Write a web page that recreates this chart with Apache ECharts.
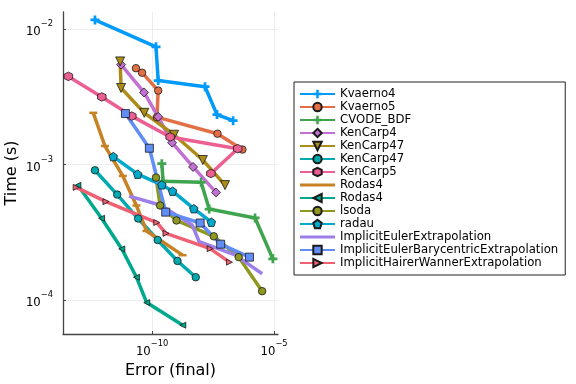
<!DOCTYPE html>
<html><head><meta charset="utf-8">
<script src="https://cdn.jsdelivr.net/npm/echarts@6/dist/echarts.min.js"></script>
<style>html,body{margin:0;padding:0;background:#fff}#c{width:576px;height:384px}</style>
</head><body><div id="c"></div>
<script>
// ---- data (Error (final), Time (s)) ----
// duplicate names in the original legend are kept distinct with a trailing space
const seriesNames = ["Kvaerno4","Kvaerno5","CVODE_BDF","KenCarp4","KenCarp47","KenCarp47 ","KenCarp5","Rodas4","Rodas4 ","lsoda","radau","ImplicitEulerExtrapolation","ImplicitEulerBarycentricExtrapolation","ImplicitHairerWannerExtrapolation"];
const kvaerno4Err = [4.57e-13, 1.45e-10, 1.78e-10, 1.48e-8, 4.57e-8, 2.09e-7];
const kvaerno4Time = [0.0117, 0.00741, 0.00417, 0.00376, 0.00234, 0.00211];
const kvaerno5Err = [2.19e-11, 3.89e-11, 1.78e-10, 1.58e-10, 4.79e-8, 5.01e-7];
const kvaerno5Time = [0.00515, 0.00477, 0.00352, 0.00224, 0.00169, 0.00129];
const cvodeErr = [2.51e-10, 2.82e-10, 1.02e-8, 2.19e-8, 1.66e-6, 8.91e-6];
const cvodeTime = [0.001014, 0.000753, 0.000739, 0.000469, 0.000403, 0.000201];
const kenCarp4Err = [5.37e-12, 4.68e-11, 1.78e-10, 6.61e-10, 4.79e-9, 4.17e-8];
const kenCarp4Time = [0.00547, 0.00341, 0.00225, 0.00145, 0.00096, 0.000622];
const kenCarp47aErr = [4.90e-12, 5.37e-12, 4.79e-11, 7.94e-10, 1.20e-8, 9.77e-8];
const kenCarp47aTime = [0.00578, 0.00368, 0.00241, 0.00166, 0.00108, 0.000705];
const kenCarp47bErr = [4.57e-13, 3.72e-12, 2.69e-11, 1.70e-10, 1.10e-9, 6.17e-9];
const kenCarp47bTime = [0.000907, 0.0006, 0.000399, 0.000277, 0.000194, 0.000147];
const kenCarp5Err = [3.72e-14, 8.71e-13, 1.48e-11, 5.50e-10, 3.24e-7, 2.57e-8];
const kenCarp5Time = [0.00448, 0.00316, 0.00228, 0.0016, 0.00131, 0.000859];
const rodas4aErr = [3.89e-13, 1.17e-12, 6.31e-12, 2.29e-11, 5.89e-11, 1.78e-9];
const rodas4aTime = [0.00241, 0.00137, 0.000824, 0.000498, 0.000323, 0.000214];
const rodas4bErr = [9.12e-14, 8.51e-13, 5.75e-12, 2.29e-11, 6.03e-11, 1.82e-9];
const rodas4bTime = [0.000702, 0.000401, 0.000238, 0.000147, 0.0000955, 0.000065];
const lsodaErr = [1.45e-10, 2.14e-10, 1.0e-9, 3.39e-8, 3.55e-7, 3.24e-6];
const lsodaTime = [0.000801, 0.000498, 0.000386, 0.000295, 0.000207, 0.000116];
const radauErr = [2.57e-12, 2.57e-11, 2.51e-10, 6.92e-10, 5.13e-9, 2.69e-8];
const radauTime = [0.001145, 0.000849, 0.000708, 0.000636, 0.000472, 0.000375];
const ieExtrapErr = [1.15e-11, 2.14e-10, 4.37e-9, 8.51e-9, 2.51e-7, 3.24e-6];
const ieExtrapTime = [0.000585, 0.000502, 0.000358, 0.000269, 0.000215, 0.000156];
const iebExtrapErr = [8.13e-12, 7.76e-11, 3.63e-10, 9.33e-9, 6.46e-8, 9.77e-7];
const iebExtrapTime = [0.00238, 0.00132, 0.000445, 0.00037, 0.000258, 0.000207];
const ihwExtrapErr = [7.76e-14, 1.29e-12, 1.55e-10, 3.72e-10, 2.40e-8, 1.48e-7];
const ihwExtrapTime = [0.000678, 0.000532, 0.000373, 0.00031, 0.000239, 0.00019];
const xTicks = [1e-10, 1e-5];
const yTicks = [1e-4, 1e-3, 1e-2];

const errs = [kvaerno4Err,kvaerno5Err,cvodeErr,kenCarp4Err,kenCarp47aErr,kenCarp47bErr,kenCarp5Err,rodas4aErr,rodas4bErr,lsodaErr,radauErr,ieExtrapErr,iebExtrapErr,ihwExtrapErr];
const times = [kvaerno4Time,kvaerno5Time,cvodeTime,kenCarp4Time,kenCarp47aTime,kenCarp47bTime,kenCarp5Time,rodas4aTime,rodas4bTime,lsodaTime,radauTime,ieExtrapTime,iebExtrapTime,ihwExtrapTime];

// ---- styles ----
const colors = ['#009AFA','#E36F47','#3EA44E','#C271D2','#AC8D18','#00A9AD','#ED5E93','#C68225','#00A98D','#8E971E','#00A8CB','#9C7FE9','#618DF6','#F06073'];
const CROSS = 'path://M3.5,0H6.5V3.5H10V6.5H6.5V10H3.5V6.5H0V3.5H3.5Z';
const DTRI = 'path://M0,0L10,0L5,10Z';
const LTRI = 'path://M10,0L0,5L10,10Z';
const RTRI = 'path://M0,0L10,5L0,10Z';
const HEX = 'path://M5,0L9.33,2.5L9.33,7.5L5,10L0.67,7.5L0.67,2.5Z';
const PENT = 'path://M5,0L10,3.8L8.1,10L1.9,10L0,3.8Z';
const HLINE = 'path://M0,0H10V2.5H0Z';
const BAR = 'path://M0,0H100V9H0Z';
const symbols = [CROSS,'circle',CROSS,'diamond',DTRI,'circle',HEX,HLINE,LTRI,'circle',PENT,'circle','rect',RTRI];
const sizes = [9,7.5,9,9,9,7.5,8.5,[8,2.5],6,7.5,8.5,1,8,6];
const borders = [0,1,0,1,1,1,1,0,1,1,1,0,1,1];

const series = seriesNames.map((name, i) => ({
  name: name,
  type: 'line',
  data: errs[i].map((e, k) => [e, times[i][k]]),
  symbol: symbols[i],
  symbolSize: sizes[i],
  showSymbol: i !== 11,
  color: colors[i],
  lineStyle: { width: 3.5, color: colors[i] },
  itemStyle: { color: colors[i], borderColor: borders[i] ? '#1a1a1a' : colors[i], borderWidth: borders[i] ? 0.8 : 0, opacity: 1 },
  emphasis: { disabled: true },
  animation: false
}));

function supLabel(v) {
  const e = Math.round(Math.log10(v));
  return '{b|10}{s|' + (e < 0 ? '\u2212' + (-e) : e) + '}';
}
const rich = {
  b: { fontSize: 11.7, fontFamily: 'DejaVu Sans', color: '#000', lineHeight: 18, verticalAlign: 'bottom' },
  s: { fontSize: 8.3, fontFamily: 'DejaVu Sans', color: '#000', lineHeight: 18, verticalAlign: 'top' }
};

const chart = echarts.init(document.getElementById('c'), null, { renderer: 'canvas' });
chart.setOption({
  animation: false,
  backgroundColor: '#fff',
  grid: { left: 63, right: 298, top: 12, bottom: 48, containLabel: false },
  xAxis: {
    type: 'log', logBase: 10,
    min: Math.pow(10, -13.65), max: Math.pow(10, -4.84),
    name: 'Error (final)', nameLocation: 'middle', nameGap: 29,
    nameTextStyle: { fontSize: 16, fontFamily: 'DejaVu Sans', color: '#000', verticalAlign: 'top' },
    axisLine: { show: true, onZero: false, lineStyle: { color: '#444', width: 1.3 } },
    axisTick: { show: true, inside: true, length: 3, customValues: xTicks, lineStyle: { color: '#444' } },
    axisLabel: { customValues: xTicks, formatter: supLabel, rich: rich, margin: 6 },
    splitLine: { show: true, lineStyle: { color: '#e8e8e8', width: 0.8 } },
    minorTick: { show: false }
  },
  yAxis: {
    type: 'log', logBase: 10,
    min: Math.pow(10, -4.252), max: Math.pow(10, -1.873),
    name: 'Time (s)', nameLocation: 'middle', nameGap: 43, nameRotate: 90,
    nameTextStyle: { fontSize: 16, fontFamily: 'DejaVu Sans', color: '#000', verticalAlign: 'bottom' },
    axisLine: { show: true, onZero: false, lineStyle: { color: '#444', width: 1.3 } },
    axisTick: { show: true, inside: true, length: 3, customValues: yTicks, lineStyle: { color: '#444' } },
    axisLabel: { customValues: yTicks, formatter: supLabel, rich: rich, margin: 10 },
    splitLine: { show: true, lineStyle: { color: '#e8e8e8', width: 0.8 } },
    minorTick: { show: false }
  },
  legend: {
    orient: 'vertical', left: 294, top: 82,
    padding: [6, 7, 6, 5],
    itemWidth: 35, itemHeight: 10.5, itemGap: 1,
    symbolKeepAspect: true,
    borderColor: '#222', borderWidth: 1, backgroundColor: '#fff',
    textStyle: { fontSize: 11.7, fontFamily: 'DejaVu Sans', color: '#000' },
    selectedMode: false,
    data: seriesNames.map((n, i) => (i === 7 || i === 11) ? { name: n, icon: BAR } : n)
  },
  series: series
});
</script></body></html>
